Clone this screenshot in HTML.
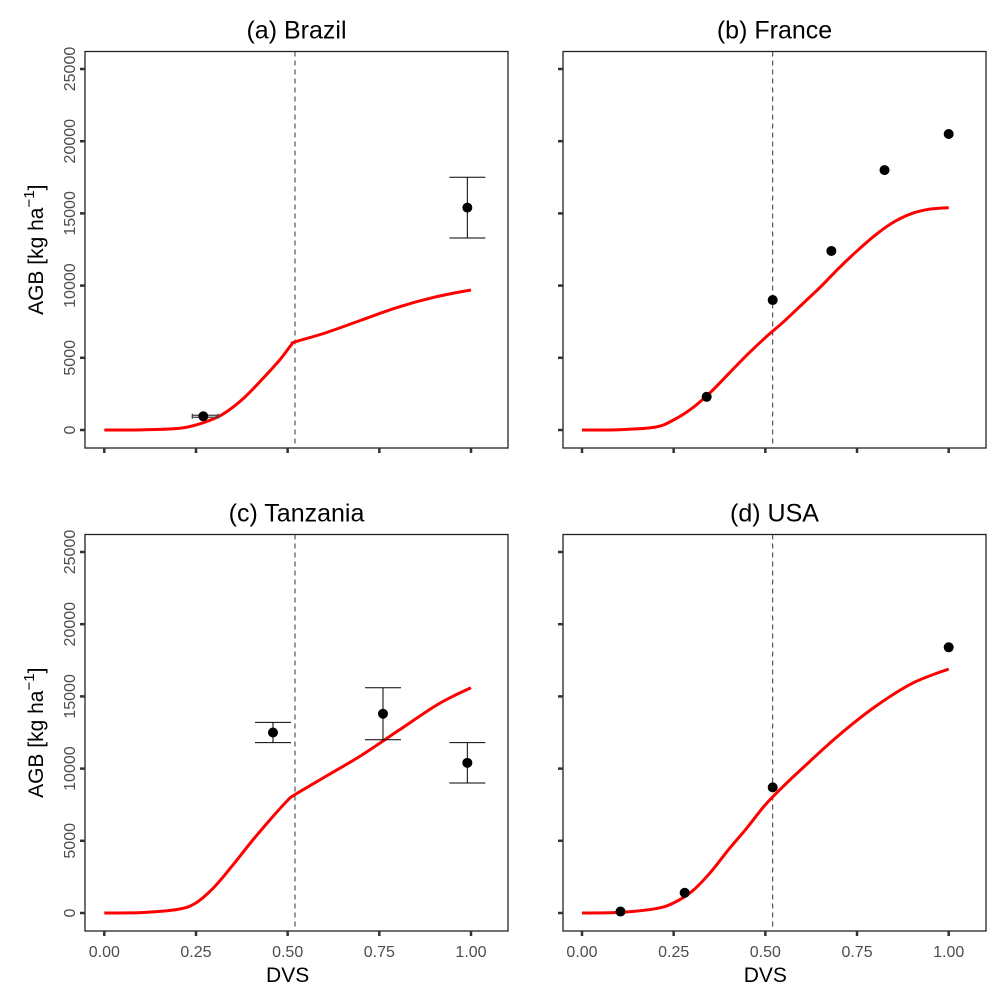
<!DOCTYPE html>
<html><head><meta charset="utf-8"><style>body{margin:0;background:#fff}svg{font-family:"Liberation Sans",sans-serif}</style></head>
<body>
<svg id="fig" width="1004" height="996" xmlns="http://www.w3.org/2000/svg"></svg>
<script>
const panelTitles=["(a) Brazil","(b) France","(c) Tanzania","(d) USA"];
const xTicks=[0,0.25,0.5,0.75,1.0];
const xTickLabels=["0.00","0.25","0.50","0.75","1.00"];
const yTicks=[0,5000,10000,15000,20000,25000];
const vline=0.52;
const curveX=[[0,0.1,0.2,0.25,0.3,0.33,0.38,0.43,0.48,0.51,0.52,0.6,0.7,0.8,0.9,1.0],
 [0,0.1,0.2,0.25,0.3,0.35,0.4,0.45,0.5,0.55,0.6,0.65,0.7,0.75,0.8,0.85,0.9,0.95,1.0],
 [0,0.1,0.2,0.25,0.3,0.35,0.4,0.45,0.5,0.52,0.6,0.7,0.8,0.9,0.95,1.0],
 [0,0.1,0.2,0.25,0.3,0.35,0.4,0.45,0.5,0.55,0.6,0.7,0.8,0.9,1.0]];
const curveY=[[0,10,100,350,800,1200,2200,3500,4900,5900,6100,6700,7600,8500,9200,9700],
 [0,20,200,700,1500,2600,3900,5200,6400,7500,8700,9900,11200,12400,13500,14400,15000,15300,15400],
 [0,30,250,700,1800,3300,4900,6400,7800,8200,9400,10900,12600,14300,15000,15600],
 [0,40,300,700,1500,2800,4400,5900,7500,8800,10000,12300,14300,15900,16900]];
const obsX=[[0.27,0.99],[0.34,0.52,0.68,0.825,1.0],[0.46,0.76,0.99],[0.105,0.28,0.52,1.0]];
const obsY=[[950,15400],[2300,9000,12400,18000,20500],[12500,13800,10400],[100,1400,8700,18400]];
const obsLo=[[null,13300],[],[11800,12000,9000],[]];
const obsHi=[[null,17500],[],[13200,15600,11800],[]];
const obsXLo=[[0.24,null],[],[],[]];
const obsXHi=[[0.31,null],[],[],[]];

const NS="http://www.w3.org/2000/svg",svg=document.getElementById('fig');
function mk(t,a,p){const e=document.createElementNS(NS,t);for(const k in a)e.setAttribute(k,a[k]);(p||svg).appendChild(e);return e;}
function smooth(P){let d=`M${P[0][0]},${P[0][1]}`;for(let i=0;i<P.length-1;i++){const p0=P[Math.max(0,i-1)],p1=P[i],p2=P[i+1],p3=P[Math.min(P.length-1,i+2)];
 const c1x=p1[0]+(p2[0]-p0[0])/6,c1y=p1[1]+(p2[1]-p0[1])/6,c2x=p2[0]-(p3[0]-p1[0])/6,c2y=p2[1]-(p3[1]-p1[1])/6;
 d+=`C${c1x},${c1y} ${c2x},${c2y} ${p2[0]},${p2[1]}`;}return d;}
const panels=[{l:85,t:51.5,r:508,b:448,x0:104.3,y0:430},{l:563,t:51.5,r:986,b:448,x0:582,y0:430},
 {l:85,t:534.5,r:508,b:931,x0:104.3,y0:913},{l:563,t:534.5,r:986,b:931,x0:582,y0:913}];
const xs=366.7, ys=361/25000;
panels.forEach((p,i)=>{
 const g=mk('g',{});
 
 
 const X=v=>p.x0+v*xs, Y=v=>p.y0-v*ys;
 const t=mk('text',{x:(p.l+p.r)/2,y:p.t-13,'text-anchor':'middle','font-size':25,fill:'#000'},g);t.textContent=panelTitles[i];
 
 const fr=mk('rect',{x:p.l,y:p.t,width:p.r-p.l,height:p.b-p.t,fill:'none',stroke:'#222','stroke-width':1.3},g);
 
 xTicks.forEach((v,k)=>{mk('line',{x1:X(v),x2:X(v),y1:p.b,y2:p.b+5,stroke:'#333','stroke-width':2.5},g);
  if(i>=2){const tl=mk('text',{x:X(v),y:p.b+26,'text-anchor':'middle','font-size':16,fill:'#4d4d4d'},g);tl.textContent=xTickLabels[k];
   }});
 yTicks.forEach(v=>{mk('line',{x1:p.l-5,x2:p.l,y1:Y(v),y2:Y(v),stroke:'#333','stroke-width':2.5},g);
  if(i%2==0){const tl=mk('text',{x:0,y:0,transform:`translate(${p.l-10},${Y(v)}) rotate(-90)`,'text-anchor':'middle','font-size':16,fill:'#4d4d4d'},g);tl.textContent=v;
   }});
 if(i%2==0){const yt=mk('text',{x:0,y:0,transform:`translate(43,${(p.t+p.b)/2}) rotate(-90)`,'text-anchor':'middle','font-size':21,fill:'#000'},g);
  yt.innerHTML='AGB [kg ha<tspan dy="-9" font-size="15">−1</tspan><tspan dy="9">]</tspan>';
  }
 if(i>=2){const xt=mk('text',{x:X(0.5),y:p.b+51,'text-anchor':'middle','font-size':21,fill:'#000'},g);xt.textContent='DVS';
  }
 const vl=mk('line',{x1:X(vline),x2:X(vline),y1:p.t,y2:p.b,stroke:'#333','stroke-width':1,'stroke-dasharray':'5,4'},g);
 
 const P=curveX[i].map((x,k)=>[X(x),Y(curveY[i][k])]);
 const cl=mk('path',{d:smooth(P),fill:'none',stroke:'#ff0000','stroke-width':3,'stroke-linejoin':'round'},g);
 
 obsX[i].forEach((x,k)=>{
  const lo=(obsLo[i]||[])[k],hi=(obsHi[i]||[])[k];
  if(lo!=null&&hi!=null){const e=mk('path',{d:`M${X(x)-18},${Y(hi)}H${X(x)+18}M${X(x)},${Y(hi)}V${Y(lo)}M${X(x)-18},${Y(lo)}H${X(x)+18}`,stroke:'#000','stroke-width':1,fill:'none'},g);
   }
  const xl=(obsXLo[i]||[])[k],xh=(obsXHi[i]||[])[k];
  if(xl!=null&&xh!=null){const yy=Y(obsY[i][k]);const e=mk('path',{d:`M${X(xl)},${yy-2.5}V${yy+2.5}M${X(xl)},${yy-1}H${X(xh)}M${X(xl)},${yy+1}H${X(xh)}M${X(xh)},${yy-2.5}V${yy+2.5}`,stroke:'#444','stroke-width':1.3,fill:'none'},g);
   }
  const c=mk('circle',{cx:X(x),cy:Y(obsY[i][k]),r:5,fill:'#000'},g);
  
 });
});
</script>
</body></html>
